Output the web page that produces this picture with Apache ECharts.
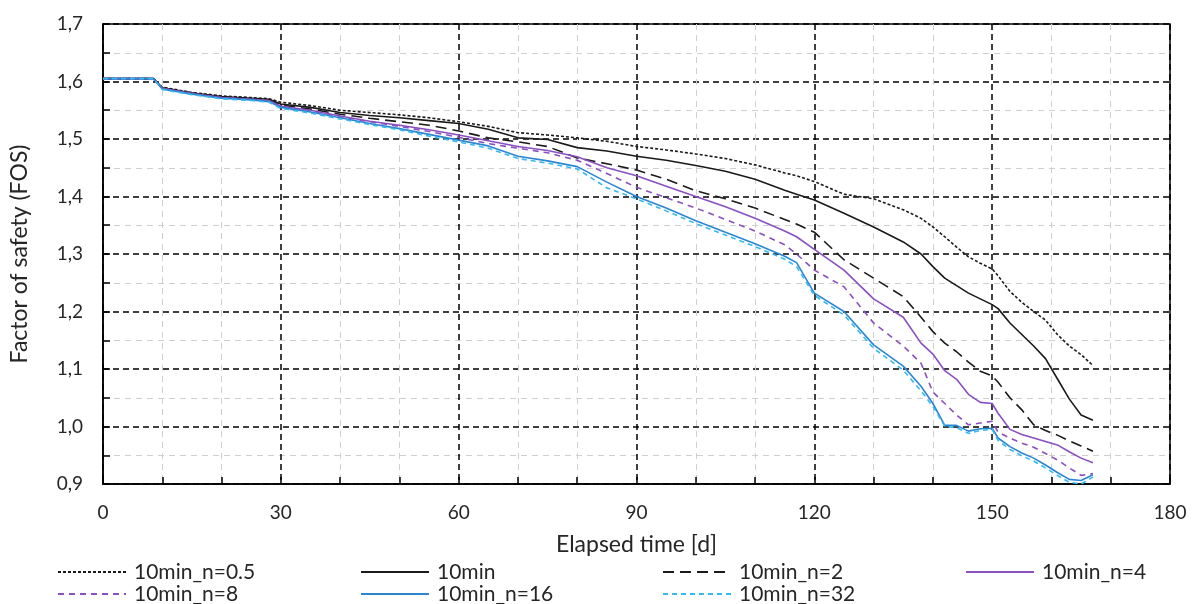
<!DOCTYPE html>
<html lang="en">
<head>
<meta charset="UTF-8">
<title>Factor of safety vs elapsed time</title>
<script src="https://cdn.jsdelivr.net/npm/echarts@6/dist/echarts.min.js"></script>
<style>
    html, body { margin: 0; padding: 0; background: #fff; }
    #chart { width: 1195px; height: 604px; }
</style>
</head>
<body>
<div id="chart"></div>
<script>
// elapsed time [d], shared by all series
const days = [0, 8.5, 10, 15, 20, 25, 28, 30, 35, 40, 45, 50, 55, 60, 65, 70, 75, 80, 85, 90, 95, 100, 105, 110, 115, 117, 120, 125, 130, 135, 138, 140, 142, 144, 146, 148, 150, 151, 153, 155, 157, 159, 161, 163, 165, 167];

const fosN05 = [1.605, 1.605, 1.590, 1.581, 1.575, 1.572, 1.570, 1.564, 1.558, 1.550, 1.546, 1.542, 1.537, 1.530, 1.522, 1.511, 1.507, 1.502, 1.496, 1.487, 1.481, 1.474, 1.466, 1.455, 1.441, 1.436, 1.426, 1.404, 1.396, 1.377, 1.362, 1.347, 1.330, 1.312, 1.295, 1.284, 1.274, 1.262, 1.235, 1.216, 1.200, 1.185, 1.160, 1.140, 1.125, 1.106];
const fos10min = [1.605, 1.605, 1.589, 1.580, 1.574, 1.571, 1.569, 1.561, 1.555, 1.546, 1.541, 1.537, 1.532, 1.527, 1.517, 1.502, 1.499, 1.485, 1.479, 1.470, 1.463, 1.454, 1.444, 1.430, 1.411, 1.404, 1.394, 1.371, 1.347, 1.321, 1.300, 1.278, 1.258, 1.245, 1.232, 1.222, 1.212, 1.205, 1.180, 1.160, 1.140, 1.118, 1.083, 1.048, 1.020, 1.011];
const fosN2 = [1.605, 1.605, 1.589, 1.580, 1.573, 1.570, 1.568, 1.559, 1.552, 1.543, 1.536, 1.530, 1.524, 1.514, 1.502, 1.495, 1.487, 1.467, 1.457, 1.446, 1.430, 1.410, 1.396, 1.380, 1.360, 1.352, 1.338, 1.290, 1.258, 1.226, 1.190, 1.165, 1.145, 1.130, 1.112, 1.096, 1.088, 1.077, 1.050, 1.029, 1.003, 0.993, 0.985, 0.975, 0.966, 0.957];
const fosN4 = [1.605, 1.605, 1.588, 1.579, 1.572, 1.569, 1.567, 1.557, 1.550, 1.540, 1.531, 1.524, 1.516, 1.507, 1.497, 1.487, 1.480, 1.469, 1.450, 1.436, 1.418, 1.400, 1.382, 1.362, 1.340, 1.330, 1.308, 1.272, 1.222, 1.190, 1.145, 1.126, 1.097, 1.082, 1.056, 1.042, 1.040, 1.023, 0.995, 0.986, 0.980, 0.974, 0.968, 0.956, 0.945, 0.937];
const fosN8 = [1.605, 1.605, 1.588, 1.579, 1.572, 1.569, 1.566, 1.556, 1.549, 1.539, 1.530, 1.522, 1.513, 1.503, 1.492, 1.484, 1.476, 1.463, 1.440, 1.416, 1.398, 1.380, 1.360, 1.340, 1.316, 1.300, 1.272, 1.243, 1.180, 1.140, 1.110, 1.060, 1.040, 1.020, 1.003, 1.006, 1.009, 0.990, 0.980, 0.971, 0.964, 0.953, 0.942, 0.928, 0.915, 0.918];
const fosN16 = [1.605, 1.605, 1.587, 1.578, 1.571, 1.568, 1.565, 1.555, 1.547, 1.537, 1.527, 1.518, 1.508, 1.498, 1.488, 1.470, 1.462, 1.452, 1.425, 1.400, 1.380, 1.358, 1.338, 1.318, 1.296, 1.285, 1.232, 1.200, 1.142, 1.105, 1.070, 1.040, 1.002, 1.002, 0.992, 0.996, 0.997, 0.980, 0.965, 0.954, 0.945, 0.933, 0.920, 0.908, 0.906, 0.916];
const fosN32 = [1.605, 1.605, 1.586, 1.577, 1.570, 1.567, 1.564, 1.553, 1.545, 1.535, 1.525, 1.516, 1.505, 1.495, 1.484, 1.466, 1.458, 1.448, 1.415, 1.396, 1.375, 1.353, 1.333, 1.313, 1.291, 1.278, 1.228, 1.194, 1.136, 1.098, 1.062, 1.035, 1.000, 0.998, 0.988, 0.993, 0.995, 0.976, 0.960, 0.949, 0.940, 0.928, 0.915, 0.903, 0.900, 0.912];

const seriesNames = ['10min_n=0.5', '10min', '10min_n=2', '10min_n=4', '10min_n=8', '10min_n=16', '10min_n=32'];
const seriesValues = [fosN05, fos10min, fosN2, fosN4, fosN8, fosN16, fosN32];

const styles = [
    { color: '#1a1a1a', type: [3, 2] },
    { color: '#1a1a1a', type: 'solid' },
    { color: '#1a1a1a', type: [11, 6] },
    { color: '#8a4fc0', type: 'solid' },
    { color: '#8a4fc0', type: [6, 5] },
    { color: '#2b87d3', type: 'solid' },
    { color: '#35b9ee', type: [5, 4] }
];

const FONT = 'Lato';
const TEXT = '#262626';

const series = seriesNames.map((name, k) => ({
    name: name,
    type: 'line',
    symbol: 'none',
    data: days.map((d, i) => [d, seriesValues[k][i]]),
    lineStyle: { color: styles[k].color, width: 1.6, type: styles[k].type },
    itemStyle: { color: styles[k].color },
    z: 3
}));

// legend: 4 columns, 2 rows, line only (no marker)
const colX = [52, 355, 657, 960];
const rowY = [556, 578];
const legends = seriesNames.map((name, k) => ({
    data: [name],
    left: colX[k % 4],
    top: rowY[Math.floor(k / 4)],
    itemWidth: 68,
    itemHeight: 16,
    itemGap: 0,
    selectedMode: false,
    itemStyle: { opacity: 0 },
    textStyle: { fontFamily: FONT, fontSize: 21, lineHeight: 22, color: TEXT, padding: [0, 0, 0, 3] }
}));

const chart = echarts.init(document.getElementById('chart'));
chart.setOption({
    animation: false,
    backgroundColor: '#fff',
    grid: {
        left: 103, right: 25, top: 24, bottom: 120,
        show: true, borderColor: '#000', borderWidth: 1.5
    },
    legend: legends,
    xAxis: {
        type: 'value',
        min: 0, max: 180, interval: 30,
        name: 'Elapsed time [d]',
        nameLocation: 'middle',
        nameGap: 49,
        nameTextStyle: { fontFamily: FONT, fontSize: 23, color: TEXT },
        axisLine: { lineStyle: { color: '#000', width: 1.5 } },
        axisTick: { show: true, inside: true, length: 7, lineStyle: { color: '#000', width: 1.5 } },
        minorTick: { show: true, splitNumber: 3, length: 7, lineStyle: { color: '#000', width: 1.5 } },
        axisLabel: { fontFamily: FONT, fontSize: 19, color: TEXT, margin: 19 },
        splitLine: { show: true, lineStyle: { color: '#000', width: 1.5, type: [6, 4] } },
        minorSplitLine: { show: true, lineStyle: { color: '#cfcfcf', width: 1, type: [6, 5] } }
    },
    yAxis: {
        type: 'value',
        min: 0.9, max: 1.7, interval: 0.1,
        name: 'Factor of safety (FOS)',
        nameLocation: 'middle',
        nameGap: 72,
        nameRotate: 90,
        nameTextStyle: { fontFamily: FONT, fontSize: 23, color: TEXT },
        axisLine: { onZero: false, lineStyle: { color: '#000', width: 1.5 } },
        axisTick: { show: true, inside: true, length: 7, lineStyle: { color: '#000', width: 1.5 } },
        minorTick: { show: true, splitNumber: 2, length: 7, lineStyle: { color: '#000', width: 1.5 } },
        axisLabel: {
            fontFamily: FONT, fontSize: 19, color: TEXT, margin: 20,
            formatter: v => v.toFixed(1).replace('.', ',')
        },
        splitLine: { show: true, lineStyle: { color: '#000', width: 1.5, type: [6, 4] } },
        minorSplitLine: { show: true, lineStyle: { color: '#cfcfcf', width: 1, type: [6, 5] } }
    },
    series: series
});
</script>
</body>
</html>
